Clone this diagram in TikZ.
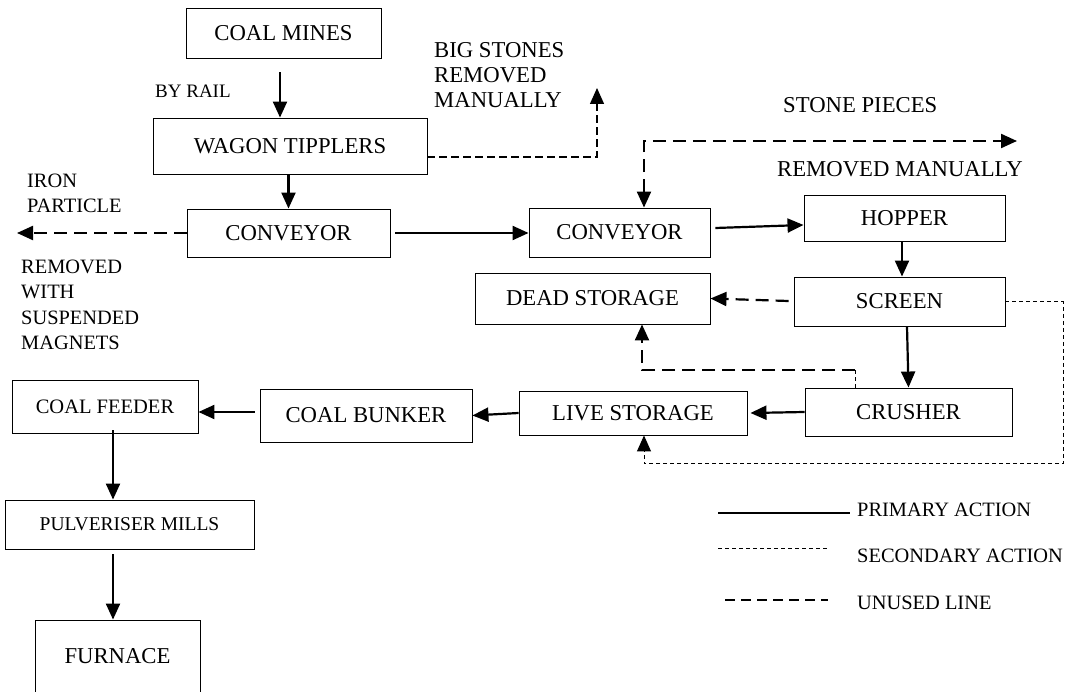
\documentclass[tikz,border=0pt]{standalone}
\usepackage{fontspec}
\setmainfont{Liberation Serif}
\usetikzlibrary{arrows.meta}

\tikzset{
  blk/.style={draw, line width=0.9pt, inner sep=0pt, font=\fontsize{22.7}{25}\selectfont},
  tip/.style={-{Triangle[length=16pt,width=14pt]}},
  primary/.style={line width=2.2pt, tip},
  unused/.style={line width=2.2pt, dash pattern=on 13pt off 7pt, tip},
  secondary/.style={line width=1pt, dash pattern=on 4pt off 3pt},
  thindash/.style={line width=1.3pt, dash pattern=on 8pt off 4pt},
  lbl/.style={inner sep=0pt, align=left, font=\fontsize{22.7}{25}\selectfont},
  small/.style={font=\fontsize{20.4}{25.5}\selectfont},
}

\begin{document}
\begin{tikzpicture}[x=1pt,y=-1pt]
  \useasboundingbox (0,0) rectangle (1072,692);

  % blocks
  \node[blk, minimum width=195pt, minimum height=50pt] (mines) at (283.5,33) {COAL MINES};
  \node[blk, minimum width=274pt, minimum height=56pt] (tipplers) at (290,146) {WAGON TIPPLERS};
  \node[blk, minimum width=203pt, minimum height=48pt] (conv1) at (288.5,233) {CONVEYOR};
  \node[blk, minimum width=181pt, minimum height=49pt] (conv2) at (619.5,232.5) {CONVEYOR};
  \node[blk, minimum width=201pt, minimum height=46pt] (hopper) at (904.5,218) {HOPPER};
  \node[blk, minimum width=211pt, minimum height=49pt] (screen) at (899.5,301.5) {SCREEN};
  \node[blk, minimum width=235pt, minimum height=51pt] (dead) at (592.5,298.5) {DEAD STORAGE};
  \node[blk, minimum width=207pt, minimum height=48pt] (crusher) at (908.5,412) {CRUSHER};
  \node[blk, minimum width=228pt, minimum height=44pt] (live) at (633,413) {LIVE STORAGE};
  \node[blk, minimum width=212pt, minimum height=53pt] (bunker) at (366,415.5) {COAL BUNKER};
  \node[blk, minimum width=186pt, minimum height=53pt, font=\fontsize{20.5}{24}\selectfont] (feeder) at (105,406.5) {COAL FEEDER};
  \node[blk, minimum width=249pt, minimum height=49pt, font=\fontsize{19.5}{23}\selectfont] (pulv) at (129.5,524.5) {PULVERISER MILLS};
  \node[blk, minimum width=165pt, minimum height=72pt] (furnace) at (117.5,656) {FURNACE};

  % side texts
  \node[lbl, anchor=base west, font=\fontsize{19}{23}\selectfont] (byrail) at (155,98) {BY RAIL};
  \node[lbl, anchor=north west] (bigstones) at (434,42) {BIG STONES\\REMOVED\\MANUALLY};
  \node[lbl, small, anchor=north west] (iron) at (27,173.5) {IRON\\PARTICLE};
  \node[lbl, small, anchor=north west] (magnets) at (21,259.5) {REMOVED\\WITH\\SUSPENDED\\MAGNETS};
  \node[lbl, anchor=base west] (stones) at (783,113) {STONE PIECES};
  \node[lbl, anchor=base west] (manual) at (777,177) {REMOVED MANUALLY};

  \coordinate (bigtip) at (597,88);
  \coordinate (irontip) at (17,233);
  \coordinate (stonetip) at (1017,141);
  \coordinate (deadbend) at (855,370);
  \coordinate (loopcorner) at (1063,464);

  % primary flow
  \draw[primary] ([xshift=-3.5pt,yshift=-14pt]mines.south) -- ([xshift=-10pt]tipplers.north);
  \draw[primary] (tipplers.south -| conv1.north) -- (conv1.north);
  \draw[primary] ([xshift=5pt]conv1.east) -- (conv1.east -| conv2.west);
  \draw[primary] ([xshift=5pt,yshift=4.5pt]conv2.east) -- ([yshift=-7pt]hopper.west);
  \draw[primary] ([xshift=-2.5pt]hopper.south) -- ([xshift=2.5pt]screen.north);
  \draw[primary] ([xshift=7.5pt]screen.south) -- (crusher.north);
  \draw[primary] (crusher.west) -- ([xshift=3pt]live.east);
  \draw[primary] (live.west) -- (bunker.east);
  \draw[primary] ([xshift=-5pt,yshift=3.5pt]bunker.west) -- ([yshift=-5.5pt]feeder.east);
  \draw[primary] ([xshift=8pt,yshift=3pt]feeder.south) -- ([xshift=-16.5pt]pulv.north);
  \draw[primary] ([xshift=-16.5pt,yshift=-5pt]pulv.south) -- ([xshift=-4.5pt]furnace.north);

  % removals
  \draw[thindash, tip] ([yshift=-11pt]tipplers.east) -| (bigtip);
  \draw[unused] (conv1.west) -- (irontip);
  \draw[unused, {Triangle[length=16pt,width=14pt]}-{Triangle[length=16pt,width=14pt]}] ([xshift=24.5pt]conv2.north) |- (stonetip);
  \draw[unused] ([xshift=-5pt,yshift=0.5pt]screen.west) -- (dead.east);
  \draw[secondary] ([xshift=-53.5pt]crusher.north) -- (deadbend);
  \draw[unused] (deadbend) -| ([xshift=49.5pt]dead.south);
  \draw[secondary, tip] (screen.east) -| (loopcorner) -| ([xshift=11pt]live.south);

  % legend
  \draw[line width=1.2pt] (718,513) -- (850,513);
  \draw[secondary] (718,549) -- (828,549);
  \draw[line width=1.4pt, dash pattern=on 10pt off 6pt] (725,600) -- (828,600);
  \node[lbl, small, anchor=base west] (prim) at (857,517) {PRIMARY ACTION};
  \node[lbl, small, anchor=base west] (sec) at (857,563) {SECONDARY ACTION};
  \node[lbl, small, anchor=base west] (unu) at (857,609) {UNUSED LINE};
\end{tikzpicture}
\end{document}
